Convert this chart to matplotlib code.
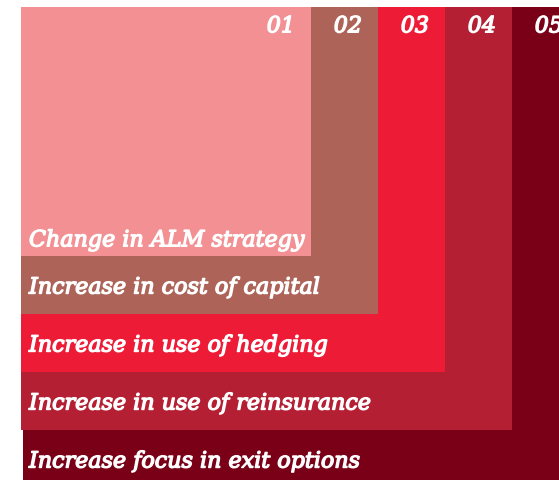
import matplotlib
matplotlib.use("Agg")
import matplotlib.pyplot as plt
from matplotlib.patches import Rectangle
import matplotlib.patheffects as pe

# Data
numbers = ["01", "02", "03", "04", "05"]
labels = [
    "Change in ALM strategy",
    "Increase in cost of capital",
    "Increase in use of hedging",
    "Increase in use of reinsurance",
    "Increase focus in exit options",
]
colors = ["#F29093", "#AD6358", "#ED1B36", "#B41F33", "#7A0017"]

W, H = 559, 481
fig = plt.figure(figsize=(W / 100, H / 100), dpi=100)
ax = fig.add_axes([0, 0, 1, 1])
ax.set_xlim(0, W)
ax.set_ylim(H, 0)
ax.axis("off")

left, top = 21, 8
w0, h0 = 290, 249
dw, dh = 67, 58
thick = [pe.withStroke(linewidth=1.0, foreground="white")]
font = dict(family="DejaVu Serif", style="italic", weight="normal",
            color="white", path_effects=thick)

n = len(numbers)
for i in reversed(range(n)):
    w = w0 + dw * i
    h = h0 + dh * i
    x0 = left + (2 if i == n - 1 else 0)
    ax.add_patch(Rectangle((x0, top), left + w - x0, h, facecolor=colors[i],
                           edgecolor="none"))
    right = left + w
    bottom = top + h
    ax.text(right - 16, 33.3, numbers[i], ha="right", va="baseline",
            fontsize=16, **font)
    base = bottom - 9.7 if i == 0 else bottom - 20.5
    ax.text(29, base, labels[i], ha="left", va="baseline", fontsize=16, **font)

fig.savefig("out.png", dpi=100)
